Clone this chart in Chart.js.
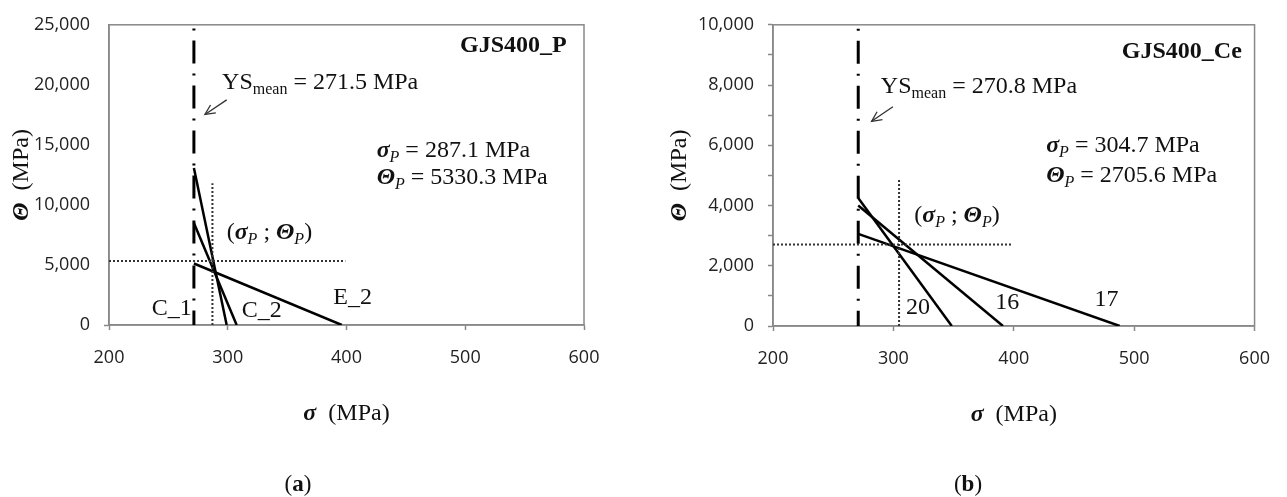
<!DOCTYPE html>
<html><head><meta charset="utf-8">
<script src="https://cdn.jsdelivr.net/npm/chart.js@4"></script>
<style>
html,body{margin:0;padding:0;background:#fff;width:1287px;height:497px;overflow:hidden}
canvas{position:absolute;top:0}
#ca{left:0}
#cb{left:640px}
</style></head><body>
<canvas id="ca" width="640" height="497"></canvas>
<canvas id="cb" width="647" height="497"></canvas>
<script>
// ---------- DATA ----------
// Chart (a): GJS400_P
const ysMeanA = 271.5, sigmaPA = 287.1, thetaPA = 5330.3;
const sigmaC1 = [271.5, 299.1], thetaC1 = [13080, 0];
const sigmaC2 = [271.5, 307.5], thetaC2 = [8500, 0];
const sigmaE2 = [271.5, 396.0], thetaE2 = [5120, 0];
const ysLineThetaA = [24700, 0];
const dotVThetaA = [0, 11800];
const dotHSigmaA = [200, 399];
// Chart (b): GJS400_Ce
const ysMeanB = 270.8, sigmaPB = 304.7, thetaPB = 2705.6;
const sigma20 = [270.8, 348.5], theta20 = [4250, 0];
const sigma16 = [270.8, 391.0], theta16 = [4000, 0];
const sigma17 = [270.8, 488.0], theta17 = [3060, 0];
const ysLineThetaB = [9870, 0];
const dotVThetaB = [0, 4900];
const dotHSigmaB = [200, 398];
// axes
const xRange = [200, 600], xStep = 100;
const yRangeA = [0, 25000], yStepA = 5000;
const yRangeB = [0, 10000], yStepB = 1000, yLabelStepB = 2000;

// ---------- helpers ----------
const SERIF = '"Liberation Serif","Times New Roman",serif';
const SANS = '"Open Sans",sans-serif';
const R = s => `${s}px ${SERIF}`;
const B = s => `bold ${s}px ${SERIF}`;
const BI = s => `italic bold ${s}px ${SERIF}`;
const AX = '#888888';
const TXT = '#111';
const pts = (xs, ys) => xs.map((x, i) => ({x, y: ys[i]}));
const fmt = v => Number(v).toLocaleString('en-US');

function richWidth(ctx, segs) {
  let w = 0;
  for (const s of segs) { ctx.font = s.f; w += ctx.measureText(s.t).width; }
  return w;
}
function rich(ctx, x, y, segs, align) {
  ctx.textBaseline = 'alphabetic';
  ctx.textAlign = 'left';
  ctx.fillStyle = TXT;
  if (align === 'right') x -= richWidth(ctx, segs);
  if (align === 'center') x -= richWidth(ctx, segs) / 2;
  for (const s of segs) {
    ctx.font = s.f;
    ctx.fillText(s.t, x, y + (s.dy || 0));
    x += ctx.measureText(s.t).width;
  }
}
const F = 24, SUB = 16;
const ysSegs = v => [{t:'YS', f:R(F)}, {t:'mean', f:R(SUB), dy:5}, {t:' = ' + v + ' MPa', f:R(F)}];
const sigSegs = v => [{t:'σ', f:BI(F)}, {t:'P', f:`italic ${SUB}px ${SERIF}`, dy:5}, {t:' = ' + v + ' MPa', f:R(F)}];
const thSegs = v => [{t:'Θ', f:BI(F)}, {t:'P', f:`italic ${SUB}px ${SERIF}`, dy:5}, {t:' = ' + v + ' MPa', f:R(F)}];
const pairSegs = [{t:'(', f:R(F)}, {t:'σ', f:BI(F)}, {t:'P', f:`italic ${SUB}px ${SERIF}`, dy:5},
  {t:' ; ', f:R(F)}, {t:'Θ', f:BI(F)}, {t:'P', f:`italic ${SUB}px ${SERIF}`, dy:5}, {t:')', f:R(F)}];

function annotPlugin(ann) {
  return {
    id: 'annot',
    beforeDatasetsDraw(chart) {
      const {ctx, chartArea: a} = chart;
      ctx.save();
      ctx.strokeStyle = AX; ctx.lineWidth = 1.5;
      ctx.strokeRect(a.left, a.top, a.right - a.left, a.bottom - a.top);
      ctx.restore();
    },
    afterDatasetsDraw(chart) {
      const {ctx, chartArea: a, scales: {x, y}} = chart;
      ctx.save();
      for (const t of ann.texts) {
        rich(ctx, x.getPixelForValue(t.x), y.getPixelForValue(t.y), t.segs, t.align);
      }
      // arrow
      const x1 = x.getPixelForValue(ann.arrow[0]), y1 = y.getPixelForValue(ann.arrow[1]);
      const x2 = x.getPixelForValue(ann.arrow[2]), y2 = y.getPixelForValue(ann.arrow[3]);
      ctx.strokeStyle = '#333'; ctx.lineWidth = 1.3;
      ctx.beginPath(); ctx.moveTo(x1, y1); ctx.lineTo(x2, y2); ctx.stroke();
      const ang = Math.atan2(y2 - y1, x2 - x1), L = 11;
      ctx.beginPath();
      ctx.moveTo(x2 - L * Math.cos(ang - 0.45), y2 - L * Math.sin(ang - 0.45));
      ctx.lineTo(x2, y2);
      ctx.lineTo(x2 - L * Math.cos(ang + 0.45), y2 - L * Math.sin(ang + 0.45));
      ctx.stroke();
      // axis titles
      const cx = (a.left + a.right) / 2;
      rich(ctx, cx, a.bottom + 95, [{t:'σ', f:BI(F)}, {t:'  (MPa)', f:R(F)}], 'center');
      ctx.save();
      ctx.translate(ann.yTitleX, (a.top + a.bottom) / 2);
      ctx.rotate(-Math.PI / 2);
      rich(ctx, 0, 8, [{t:'Θ', f:BI(F)}, {t:'  (MPa)', f:R(F)}], 'center');
      ctx.restore();
      // panel letter
      rich(ctx, ann.panelX, 491, [{t:'(', f:R(23)}, {t:ann.panel, f:B(23)}, {t:')', f:R(23)}], 'center');
      ctx.restore();
    }
  };
}

function lineDs(data, opts) {
  return Object.assign({data, showLine: true, pointRadius: 0, borderColor: '#000',
    borderWidth: 2.5, fill: false, tension: 0}, opts);
}

function makeChart(id, cfg) {
  return new Chart(document.getElementById(id), {
    type: 'scatter',
    data: {datasets: cfg.datasets},
    options: {
      responsive: false, animation: false, devicePixelRatio: 1,
      layout: {padding: cfg.padding},
      plugins: {legend: {display: false}, tooltip: {enabled: false}},
      scales: {
        x: {
          type: 'linear', min: xRange[0], max: xRange[1],
          ticks: {stepSize: xStep, color: '#222', font: {family: SANS, size: 18}, padding: 17},
          grid: {drawOnChartArea: false, tickLength: 5, tickColor: AX, tickWidth: 1.5},
          border: {color: AX, width: 1.5},
          afterFit: s => { s.height = cfg.xH; }
        },
        y: {
          type: 'linear', min: cfg.yRange[0], max: cfg.yRange[1],
          ticks: {stepSize: cfg.yStep, autoSkip: false, color: '#222', font: {family: SANS, size: 18},
            padding: 14, callback: cfg.yCb},
          grid: {drawOnChartArea: false, tickLength: 5, tickColor: cfg.yTickColor, tickWidth: 1.5},
          border: {color: AX, width: 1.5},
          afterFit: s => { s.width = cfg.yW; }
        }
      }
    },
    plugins: [annotPlugin(cfg.ann)]
  });
}

const dashDot = [2, 10, 23, 10];
const dotted = [2, 2];

makeChart('ca', {
  padding: {top: 16, right: 56, left: 0, bottom: 0},
  xH: 172, yW: 109,
  yRange: yRangeA, yStep: yStepA,
  yCb: v => fmt(v),
  yTickColor: c => (c.tick && c.tick.value === 0) ? AX : 'rgba(0,0,0,0)',
  datasets: [
    lineDs(pts([ysMeanA, ysMeanA], ysLineThetaA), {borderDash: dashDot, borderWidth: 3}),
    lineDs(pts([sigmaPA, sigmaPA], dotVThetaA), {borderDash: dotted, borderWidth: 2, borderColor: '#333'}),
    lineDs(pts(dotHSigmaA, [thetaPA, thetaPA]), {borderDash: dotted, borderWidth: 2, borderColor: '#333'}),
    lineDs(pts(sigmaC1, thetaC1)),
    lineDs(pts(sigmaC2, thetaC2)),
    lineDs(pts(sigmaE2, thetaE2))
  ],
  ann: {
    panel: 'a', panelX: 298, yTitleX: 20,
    arrow: [299.1, 18746, 280.8, 17532],
    texts: [
      {x: 295.2, y: 19660, segs: ysSegs('271.5')},
      {x: 585.4, y: 22710, segs: [{t:'GJS400_P', f:B(24)}], align: 'right'},
      {x: 425.4, y: 14021, segs: sigSegs('287.1')},
      {x: 425.4, y: 11731, segs: thSegs('5330.3')},
      {x: 299.1, y: 7144, segs: pairSegs},
      {x: 236.0, y: 809, segs: [{t:'C_1', f:R(F)}]},
      {x: 311.7, y: 672, segs: [{t:'C_2', f:R(F)}]},
      {x: 388.9, y: 1756, segs: [{t:'E_2', f:R(F)}]}
    ]
  }
});

makeChart('cb', {
  padding: {top: 18, right: 22, left: 0, bottom: 0},
  xH: 171, yW: 133,
  yRange: yRangeB, yStep: yStepB,
  yCb: v => (v % yLabelStepB === 0 ? fmt(v) : ''),
  yTickColor: AX,
  datasets: [
    lineDs(pts([ysMeanB, ysMeanB], ysLineThetaB), {borderDash: dashDot, borderWidth: 3}),
    lineDs(pts([sigmaPB, sigmaPB], dotVThetaB), {borderDash: dotted, borderWidth: 2, borderColor: '#333'}),
    lineDs(pts(dotHSigmaB, [thetaPB, thetaPB]), {borderDash: dotted, borderWidth: 2, borderColor: '#333'}),
    lineDs(pts(sigma20, theta20)),
    lineDs(pts(sigma16, theta16)),
    lineDs(pts(sigma17, theta17))
  ],
  ann: {
    panel: 'b', panelX: 328, yTitleX: 38,
    arrow: [299.6, 7282, 281.9, 6795],
    texts: [
      {x: 289.6, y: 7750, segs: ysSegs('270.8')},
      {x: 589.4, y: 8906, segs: [{t:'GJS400_Ce', f:B(24)}], align: 'right'},
      {x: 426.9, y: 5769, segs: sigSegs('304.7')},
      {x: 426.9, y: 4795, segs: thSegs('2705.6')},
      {x: 317.3, y: 3442, segs: pairSegs},
      {x: 310.5, y: 412, segs: [{t:'20', f:R(F)}]},
      {x: 384.7, y: 575, segs: [{t:'16', f:R(F)}]},
      {x: 467.0, y: 650, segs: [{t:'17', f:R(F)}]}
    ]
  }
});
</script>
</body></html>
